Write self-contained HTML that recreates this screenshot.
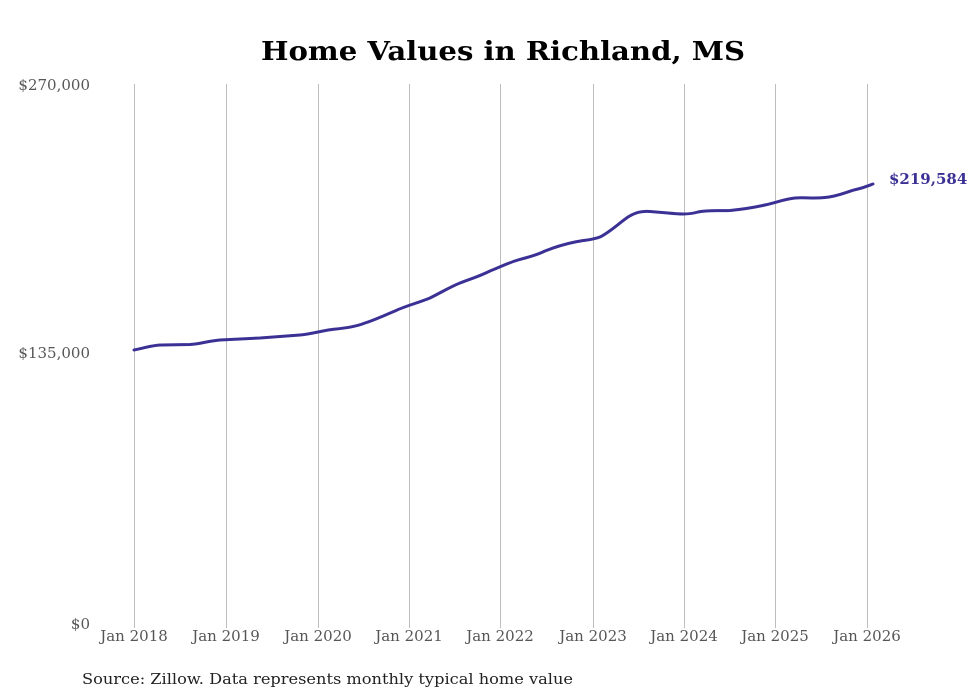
<!DOCTYPE html>
<html><head><meta charset="utf-8"><style>html,body{margin:0;padding:0;background:#fff}svg{display:block}</style></head>
<body>
<svg width="980" height="699" viewBox="0 0 980 699" xmlns="http://www.w3.org/2000/svg" font-family="'DejaVu Serif','Liberation Serif',serif">
<text x="503" y="60" text-anchor="middle" font-size="26" font-weight="bold" fill="#000" textLength="484" lengthAdjust="spacingAndGlyphs">Home Values in Richland, MS</text>
<g stroke="#bdbdbd" stroke-width="1">
<line x1="134.5" y1="84" x2="134.5" y2="628"/>
<line x1="226.5" y1="84" x2="226.5" y2="628"/>
<line x1="318.5" y1="84" x2="318.5" y2="628"/>
<line x1="409.5" y1="84" x2="409.5" y2="628"/>
<line x1="500.5" y1="84" x2="500.5" y2="628"/>
<line x1="593.5" y1="84" x2="593.5" y2="628"/>
<line x1="684.5" y1="84" x2="684.5" y2="628"/>
<line x1="775.5" y1="84" x2="775.5" y2="628"/>
<line x1="867.5" y1="84" x2="867.5" y2="628"/>
</g>
<g font-size="15" fill="#555">
<text x="90" y="90" text-anchor="end">$270,000</text>
<text x="90" y="358" text-anchor="end">$135,000</text>
<text x="90" y="629" text-anchor="end">$0</text>
</g>
<g font-size="15" fill="#555" text-anchor="middle">
<text x="134" y="641">Jan 2018</text>
<text x="226" y="641">Jan 2019</text>
<text x="318" y="641">Jan 2020</text>
<text x="409" y="641">Jan 2021</text>
<text x="500" y="641">Jan 2022</text>
<text x="593" y="641">Jan 2023</text>
<text x="684" y="641">Jan 2024</text>
<text x="775" y="641">Jan 2025</text>
<text x="867" y="641">Jan 2026</text>
</g>
<text x="82" y="684" font-size="15" fill="#222" textLength="491" lengthAdjust="spacingAndGlyphs">Source: Zillow. Data represents monthly typical home value</text>
<path fill="none" stroke="#3b3195" stroke-width="3" stroke-linejoin="round" stroke-linecap="round"
d="M134,350 C145,348 152,345 162,345 L190,344.5 C200,344 208,341 220,340 L260,338 L300,335 C312,334 320,331 332,329.5 C345,328 355,327 365,323 C375,320 385,315 395,311 C405,306 418,303 430,298 C442,292 450,287 460,283 C470,279 478,277 490,271 C500,267 508,263 518,260 C528,257 535,256 545,251 C555,247 565,244 575,242 C585,240 592,240 600,237 C610,232 618,224 628,217 C636,212 642,211 650,211.5 L668,213 C678,214 688,215 698,212 C708,210 715,211 730,210.5 C745,209 752,208 765,205 C778,202 785,199 795,198 C805,197 812,199 825,197.5 C840,196 848,191 858,189 C866,187 870,185 873,184"/>
<text x="889" y="184" font-size="15" font-weight="bold" fill="#3b3195">$219,584</text>
</svg>
</body></html>
